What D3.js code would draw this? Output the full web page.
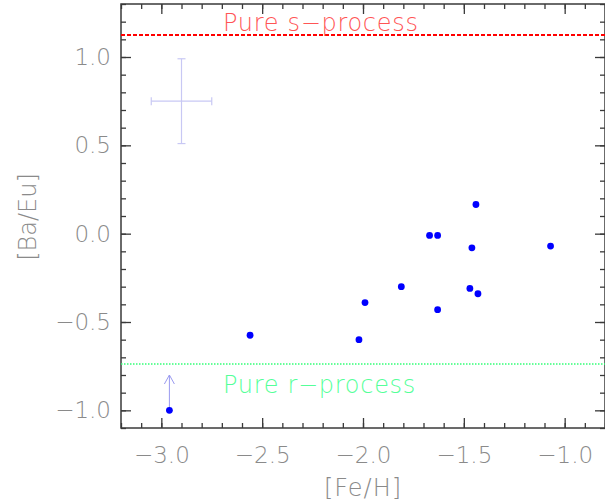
<!DOCTYPE html>
<html>
<head>
<meta charset="utf-8">
<script src="https://cdn.jsdelivr.net/npm/d3@7"></script>
<style>
  body { margin: 0; background: #fff; }
  svg text { font-family: "DejaVu Sans ExtraLight", "DejaVu Sans", sans-serif; font-weight: 200; }
</style>
</head>
<body>
<svg width="605" height="501"></svg>
<script>
// [Fe/H] and [Ba/Eu] of the stars
var feh  = [-2.96, -2.56, -2.02, -1.99, -1.81, -1.67, -1.63, -1.63, -1.47, -1.46, -1.44, -1.43, -1.07];
var baeu = [-1.00, -0.575, -0.60, -0.39, -0.30, -0.01, -0.01, -0.43, -0.31, -0.08, 0.165, -0.34, -0.07];
// lower limit (arrow) on the first star
var limitIdx = [0];
var limitTop = [-0.80];
// typical error bar
var errPoint = [-2.90, 0.75];
var errSize = [0.15, 0.24];
// reference levels
var sLevel = 1.125, rLevel = -0.738;
var xTicks = [-3.0, -2.5, -2.0, -1.5, -1.0];
var yTicks = [-1.0, -0.5, 0.0, 0.5, 1.0];

var svg = d3.select("svg"),
	pLeft = 121, pRight = 605, pTop = 4, pBottom = 428;

var x = d3.scaleLinear().domain([-3.2, -0.8]).range([pLeft, pRight]);
var y = d3.scaleLinear().domain([-1.1, 1.3]).range([pBottom, pTop]);

var fmt = function(d) { return (d < 0 ? "\u2212" : "") + Math.abs(d).toFixed(1); };
var axisCol = "#3a3a3a", labelCol = "#8a8a8a";

var minorX = d3.range(-3.2, -0.79, 0.1).map(function(d) { return +d.toFixed(1); });
var minorY = d3.range(-1.1, 1.31, 0.1).map(function(d) { return +d.toFixed(1); });

function styleAxis(g) {
	g.select(".domain").remove();
	g.selectAll("line").attr("stroke", axisCol).attr("stroke-width", 1.3);
}

// minor ticks on all four sides
svg.append("g").attr("transform", "translate(0," + pBottom + ")")
	.call(d3.axisBottom(x).tickValues(minorX).tickSize(-5).tickFormat("")).call(styleAxis);
svg.append("g").attr("transform", "translate(0," + pTop + ")")
	.call(d3.axisTop(x).tickValues(minorX).tickSize(-5).tickFormat("")).call(styleAxis);
svg.append("g").attr("transform", "translate(" + pLeft + ",0)")
	.call(d3.axisLeft(y).tickValues(minorY).tickSize(-5).tickFormat("")).call(styleAxis);
svg.append("g").attr("transform", "translate(" + pRight + ",0)")
	.call(d3.axisRight(y).tickValues(minorY).tickSize(-5).tickFormat("")).call(styleAxis);

// major ticks
var xb = svg.append("g").attr("transform", "translate(0," + pBottom + ")")
	.call(d3.axisBottom(x).tickValues(xTicks).tickSize(-10).tickPadding(0).tickFormat(fmt)).call(styleAxis);
svg.append("g").attr("transform", "translate(0," + pTop + ")")
	.call(d3.axisTop(x).tickValues(xTicks).tickSize(-10).tickFormat("")).call(styleAxis);
var yl = svg.append("g").attr("transform", "translate(" + pLeft + ",0)")
	.call(d3.axisLeft(y).tickValues(yTicks).tickSize(-10).tickPadding(10).tickFormat(fmt)).call(styleAxis);
svg.append("g").attr("transform", "translate(" + pRight + ",0)")
	.call(d3.axisRight(y).tickValues(yTicks).tickSize(-10).tickFormat("")).call(styleAxis);

xb.selectAll("text").attr("y", 35).attr("dy", 0)
	.attr("font-size", 23).attr("fill", labelCol).style("font-family", null);
yl.selectAll("text").attr("font-size", 23).attr("fill", labelCol).style("font-family", null);

// frame
svg.append("rect")
	.attr("x", pLeft).attr("y", pTop)
	.attr("width", pRight - pLeft).attr("height", pBottom - pTop)
	.attr("fill", "none").attr("stroke", axisCol).attr("stroke-width", 1.5);

// axis titles
svg.append("text").attr("x", (pLeft + pRight) / 2).attr("y", 496)
	.attr("text-anchor", "middle").attr("font-size", 24).attr("fill", labelCol)
	.attr("letter-spacing", 1).text("[Fe/H]");
svg.append("text").attr("transform", "translate(36,217) rotate(-90)")
	.attr("text-anchor", "middle").attr("font-size", 24).attr("fill", labelCol)
	.text("[Ba/Eu]");

// pure s / pure r lines
svg.append("line").attr("x1", pLeft).attr("x2", pRight)
	.attr("y1", y(sLevel)).attr("y2", y(sLevel))
	.attr("stroke", "#ff0000").attr("stroke-width", 2).attr("stroke-dasharray", "4,2");
svg.append("text").attr("x", 223).attr("y", 31)
	.attr("font-size", 24).attr("fill", "#ff5555").attr("letter-spacing", 0.7)
	.text("Pure s\u2212process");

svg.append("line").attr("x1", pLeft).attr("x2", pRight)
	.attr("y1", y(rLevel)).attr("y2", y(rLevel))
	.attr("stroke", "#33ff77").attr("stroke-width", 1.5).attr("stroke-dasharray", "1.5,1.5");
svg.append("text").attr("x", 223).attr("y", 393)
	.attr("font-size", 24).attr("fill", "#55ff99").attr("letter-spacing", 0.7)
	.text("Pure r\u2212process");

// error bar
var eb = svg.append("g").attr("stroke", "#c8c8f4").attr("stroke-width", 1.2);
eb.append("line").attr("x1", x(errPoint[0] - errSize[0])).attr("x2", x(errPoint[0] + errSize[0]))
	.attr("y1", y(errPoint[1])).attr("y2", y(errPoint[1]));
eb.append("line").attr("x1", x(errPoint[0])).attr("x2", x(errPoint[0]))
	.attr("y1", y(errPoint[1] - errSize[1])).attr("y2", y(errPoint[1] + errSize[1]));
[-1, 1].forEach(function(s) {
	eb.append("line").attr("x1", x(errPoint[0] + s * errSize[0])).attr("x2", x(errPoint[0] + s * errSize[0]))
		.attr("y1", y(errPoint[1]) - 4).attr("y2", y(errPoint[1]) + 4);
	eb.append("line").attr("y1", y(errPoint[1] + s * errSize[1])).attr("y2", y(errPoint[1] + s * errSize[1]))
		.attr("x1", x(errPoint[0]) - 4).attr("x2", x(errPoint[0]) + 4);
});

// lower-limit arrows
limitIdx.forEach(function(i, k) {
	var ax = x(feh[i]), ay = y(limitTop[k]);
	var a = svg.append("g").attr("stroke", "#9a9af0").attr("stroke-width", 1).attr("fill", "none");
	a.append("line").attr("x1", ax).attr("x2", ax).attr("y1", y(baeu[i])).attr("y2", ay);
	a.append("path").attr("d", "M" + (ax - 5) + "," + (ay + 9) + "L" + ax + "," + ay + "L" + (ax + 5) + "," + (ay + 9));
});

// stars
svg.append("g").selectAll("circle")
	.data(feh)
	.enter().append("circle")
	.attr("cx", function(d) { return x(d); })
	.attr("cy", function(d, i) { return y(baeu[i]); })
	.attr("r", 3.4)
	.attr("fill", "#0000ff");
</script>
</body>
</html>
